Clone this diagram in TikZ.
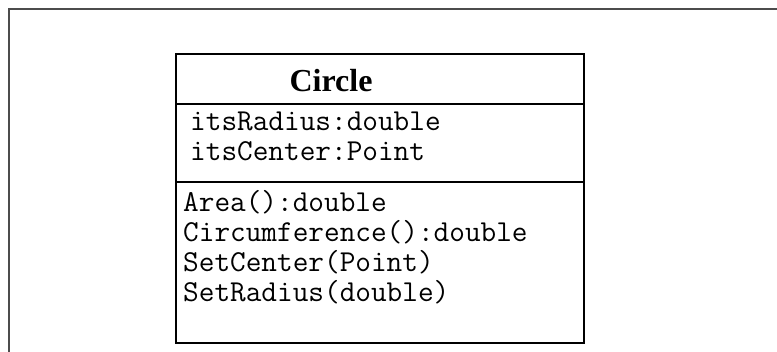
\documentclass[tikz,border=0pt]{standalone}
\usepackage{fontspec}
\setmainfont{Liberation Serif}
\begin{document}
\begin{tikzpicture}[x=1pt,y=-1pt,
  boxline/.style={draw=black,line width=2.2pt},
  frameline/.style={draw=black!70,line width=1.8pt},
  member/.style={anchor=base west,inner sep=0pt,font=\fontsize{30.4}{30}\selectfont\ttfamily},
  title/.style={anchor=base,inner sep=0pt,font=\fontsize{32}{36}\selectfont\bfseries}]
\useasboundingbox (0,0) rectangle (777,352);
\fill[white] (0,0) rectangle (777,352);
\coordinate (fb) at (9,353);
\coordinate (fc) at (9,9);
\coordinate (fr) at (778,9);
\draw[frameline] (fb) -- (fc) -- (fr);
\node[boxline,rectangle,minimum width=408pt,minimum height=289pt,anchor=north west,inner sep=0pt] (cls) at (175,53) {};
\coordinate (d1l) at (175,104);
\coordinate (d1r) at (583,104);
\coordinate (d2l) at (175,182);
\coordinate (d2r) at (583,182);
\draw[boxline] (d1l) -- (d1r);
\draw[boxline] (d2l) -- (d2r);
\node[title] (name) at (331,92) {Circle};
\node[member] (a1) at (190,131) {itsRadius:double};
\node[member] (a2) at (190,161) {itsCenter:Point};
\node[member] (m1) at (183,212) {Area():double};
\node[member] (m2) at (183,242) {Circumference():double};
\node[member] (m3) at (183,272) {SetCenter(Point)};
\node[member] (m4) at (183,302) {SetRadius(double)};
\end{tikzpicture}
\end{document}
